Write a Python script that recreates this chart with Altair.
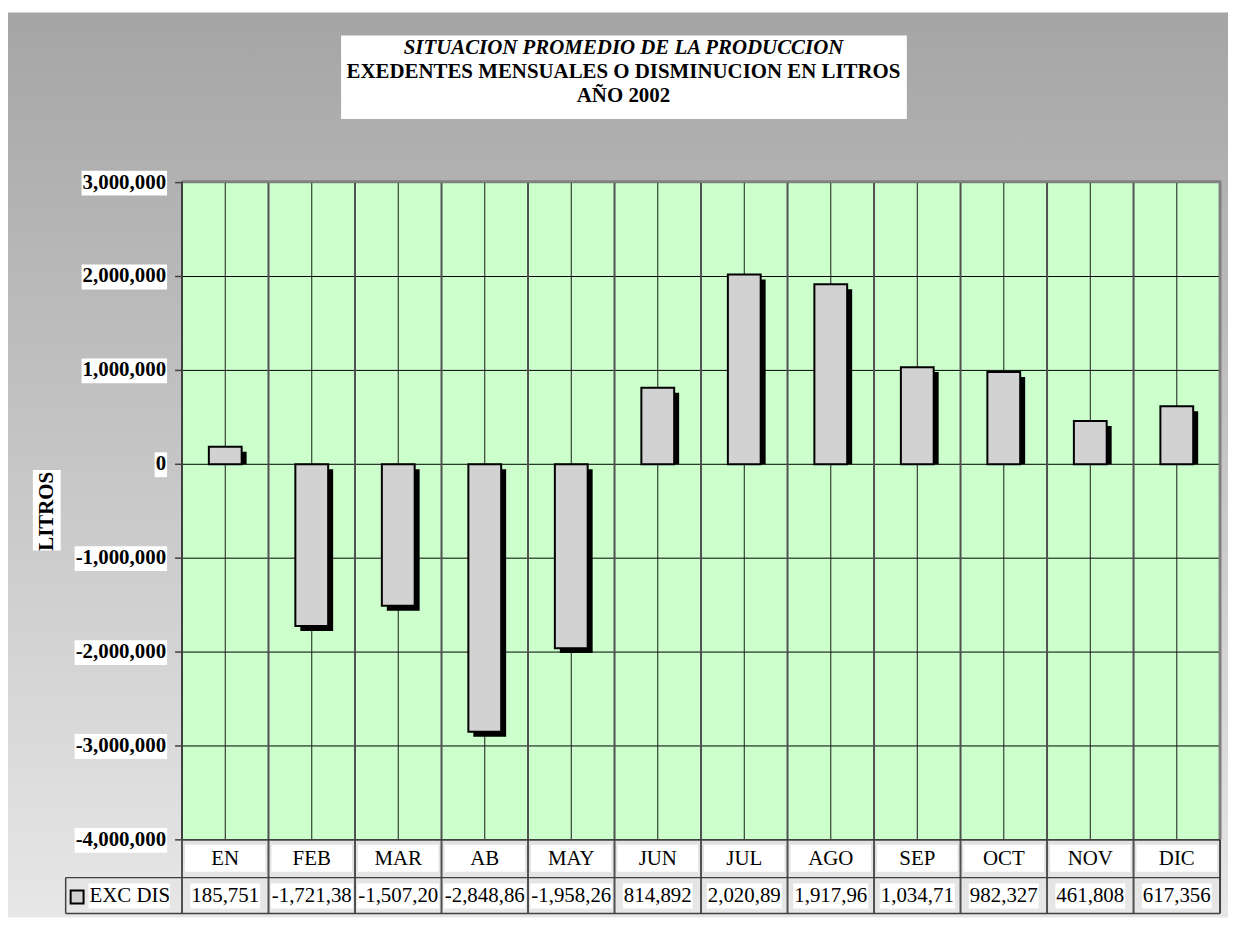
import altair as alt
import pandas as pd

# ---------------- data ----------------
months = ["EN", "FEB", "MAR", "AB", "MAY", "JUN", "JUL", "AGO", "SEP", "OCT", "NOV", "DIC"]
values = [185751, -1721384, -1507204, -2848864, -1958264, 814892,
          2020894, 1917964, 1034714, 982327, 461808, 617356]
table_labels = ["185,751", "-1,721,38", "-1,507,20", "-2,848,86", "-1,958,26", "814,892",
                "2,020,89", "1,917,96", "1,034,71", "982,327", "461,808", "617,356"]
y_ticks = [-4000000, -3000000, -2000000, -1000000, 0, 1000000, 2000000, 3000000]
series_name = "EXC DIS"
y_title = "LITROS"
title_lines = ["SITUACION PROMEDIO DE LA PRODUCCION",
               "EXEDENTES MENSUALES O DISMINUCION EN LITROS",
               "AÑO 2002"]

# ---------------- layout / style ----------------
W, H = 1044, 661
FONT = "Liberation Serif"
FS = 21


def text_width(s, size=FS):
    em = 0.0
    for c in s:
        if c.isdigit():
            em += 0.5
        elif c == ",":
            em += 0.25
        elif c == "-":
            em += 0.333
        else:
            em += 0.5
    return em * size


def tick_label(v):
    s = f"{abs(v):,}"
    return "-" + s if v < 0 else s


df = pd.DataFrame({"m": months, "v": values, "lab": table_labels})
df["w"] = [text_width(s) + 2 for s in table_labels]
ticks = pd.DataFrame({"v": y_ticks})
ticks["lab"] = [tick_label(v) for v in y_ticks]
ticks["w"] = [text_width(s) + 2 for s in ticks["lab"]]
titles = pd.DataFrame({"t": title_lines, "i": [0, 1, 2]})

xs = alt.Scale(domain=months, paddingInner=0, paddingOuter=0)
ys = alt.Scale(domain=[-4000000, 3000000], nice=False, zero=False)
X = alt.X("m:N", scale=xs, axis=None, sort=months)
XB = alt.X("m:N", scale=xs, axis=None, sort=months, bandPosition=0)
Y = alt.Y("v:Q", scale=ys, axis=None)

one = alt.Chart(pd.DataFrame({"k": [0]}))
base = alt.Chart(df)
tk = alt.Chart(ticks)

bg = one.mark_rect(
    fill=alt.LinearGradient(
        gradient="linear", x1=0, x2=0, y1=0, y2=1,
        stops=[alt.GradientStop(color="#a5a5a5", offset=0),
               alt.GradientStop(color="#e7e7e7", offset=1)])
).encode(x=alt.value(-175), x2=alt.value(W + 8), y=alt.value(-171), y2=alt.value(H + 78))

plotbg = one.mark_rect(fill="#ccffcc").encode(
    x=alt.value(0), x2=alt.value(W), y=alt.value(0), y2=alt.value(H))

frame_top = one.mark_rule(color="#808080", strokeWidth=3).encode(
    x=alt.value(0), x2=alt.value(W + 1), y=alt.value(-1))
frame_right = one.mark_rule(color="#808080", strokeWidth=3).encode(
    x=alt.value(W), y=alt.value(-1), y2=alt.value(H))

# title
title_box = one.mark_rect(fill="white").encode(
    x=alt.value(160), x2=alt.value(729), y=alt.value(-148), y2=alt.value(-64))
t1 = alt.Chart(titles).transform_filter("datum.i == 0").mark_text(
    font=FONT, fontSize=FS, fontWeight="bold", fontStyle="italic", baseline="middle",
    align="center").encode(text="t:N", x=alt.value(444), y=alt.value(-135))
t2 = alt.Chart(titles).transform_filter("datum.i == 1").mark_text(
    font=FONT, fontSize=FS, fontWeight="bold", baseline="middle",
    align="center").encode(text="t:N", x=alt.value(444), y=alt.value(-111))
t3 = alt.Chart(titles).transform_filter("datum.i == 2").mark_text(
    font=FONT, fontSize=FS, fontWeight="bold", baseline="middle",
    align="center").encode(text="t:N", x=alt.value(444), y=alt.value(-87))

# y axis: label boxes, labels, ticks, domain, title
ylab_box = tk.transform_calculate(
    xl="-15 - datum.w"
).mark_rect(fill="white", yOffset=-12, y2Offset=13).encode(
    x=alt.X("xl:Q", scale=None, axis=None),
    x2=alt.value(-15),
    y=Y, y2=alt.Y2("v:Q"),
)
ylab_text = tk.mark_text(font=FONT, fontSize=FS, fontWeight="bold", align="right",
                         baseline="middle", color="black").encode(
    x=alt.value(-16), y=Y, text="lab:N")
ytick = tk.mark_rule(color="#404040", strokeWidth=1.5).encode(
    x=alt.value(-7), x2=alt.value(0), y=Y)
ydomain = one.mark_rule(color="#404040", strokeWidth=2).encode(
    x=alt.value(0), y=alt.value(-1), y2=alt.value(H))
ytitle_box = one.mark_rect(fill="white").encode(
    x=alt.value(-150), x2=alt.value(-122), y=alt.value(289), y2=alt.value(370))
ytitle = alt.Chart(pd.DataFrame({"s": [y_title]})).mark_text(
    font=FONT, fontSize=FS, fontWeight="bold", angle=270, align="center",
    baseline="middle", color="black").encode(
    x=alt.value(-136), y=alt.value(H / 2), text="s:N")

# grid
hgrid = tk.mark_rule(color="#000000", strokeWidth=1).encode(
    x=alt.value(0), x2=alt.value(W), y=Y)
vcenter = base.mark_rule(color="#1a1a1a", strokeWidth=1).encode(
    x=X, y=alt.value(0), y2=alt.value(H))
vbound = base.mark_rule(color="#505050", strokeWidth=2).encode(
    x=XB, y=alt.value(0), y2=alt.value(H + 74))
vright = one.mark_rule(color="#404040", strokeWidth=2).encode(
    x=alt.value(W), y=alt.value(H), y2=alt.value(H + 74))

# bars
shadow_pos = base.transform_filter("datum.v >= 0").mark_bar(
    size=33, xOffset=5, yOffset=5, fill="black").encode(
    x=X, y=Y, y2=alt.datum(0))
shadow_neg = base.transform_filter("datum.v < 0").mark_bar(
    size=33, xOffset=5, yOffset=5, y2Offset=5, fill="black").encode(
    x=X, y=Y, y2=alt.datum(0))
bars = base.mark_bar(size=33, fill="#d2d2d2", stroke="black", strokeWidth=2).encode(
    x=X, y=Y, y2=alt.datum(0))

# data table
hline1 = one.mark_rule(color="#404040", strokeWidth=1.5).encode(
    x=alt.value(-117), x2=alt.value(W), y=alt.value(699))
hline2 = one.mark_rule(color="#404040", strokeWidth=1.5).encode(
    x=alt.value(-117), x2=alt.value(W), y=alt.value(735))
hline0 = one.mark_rule(color="#404040", strokeWidth=1.5).encode(
    x=alt.value(0), x2=alt.value(W), y=alt.value(H))
vleft = one.mark_rule(color="#404040", strokeWidth=1.5).encode(
    x=alt.value(-117), y=alt.value(699), y2=alt.value(735))

month_box = base.mark_bar(size=81, fill="white").encode(
    x=X, y=alt.value(666), y2=alt.value(693))
month_text = base.mark_text(font=FONT, fontSize=FS, baseline="middle", align="center").encode(
    x=X, y=alt.value(680), text="m:N")
val_box = base.mark_bar(fill="white").encode(
    x=X, y=alt.value(705), y2=alt.value(730),
    size=alt.Size("w:Q", scale=None, legend=None))
val_text = base.mark_text(font=FONT, fontSize=FS, baseline="middle", align="center").encode(
    x=X, y=alt.value(718), text="lab:N")

leg_sym = one.mark_rect(fill="#d2d2d2", stroke="black", strokeWidth=2).encode(
    x=alt.value(-112), x2=alt.value(-99), y=alt.value(712), y2=alt.value(725))
leg_box = one.mark_rect(fill="white").encode(
    x=alt.value(-94), x2=alt.value(-12), y=alt.value(705), y2=alt.value(730))
leg_text = alt.Chart(pd.DataFrame({"s": [series_name]})).mark_text(
    font=FONT, fontSize=FS, baseline="middle", align="left").encode(
    x=alt.value(-93), y=alt.value(718), text="s:N")

chart = alt.layer(
    bg, plotbg, title_box, t1, t2, t3, ylab_box, ylab_text, ytick, ytitle_box, ytitle,
    hgrid, vcenter, vbound, frame_top, frame_right, ydomain,
    shadow_pos, shadow_neg, bars,
    hline0, hline1, hline2, vleft, vright,
    month_box, month_text, val_box, val_text,
    leg_sym, leg_box, leg_text,
).properties(
    width=W, height=H,
    autosize=alt.AutoSizeParams(type="none"),
    padding={"left": 175, "top": 173, "right": 8, "bottom": 78},
).configure_view(stroke=None).configure(background="white")

chart.save("out.html", embed_options={"renderer": "svg", "actions": False})
